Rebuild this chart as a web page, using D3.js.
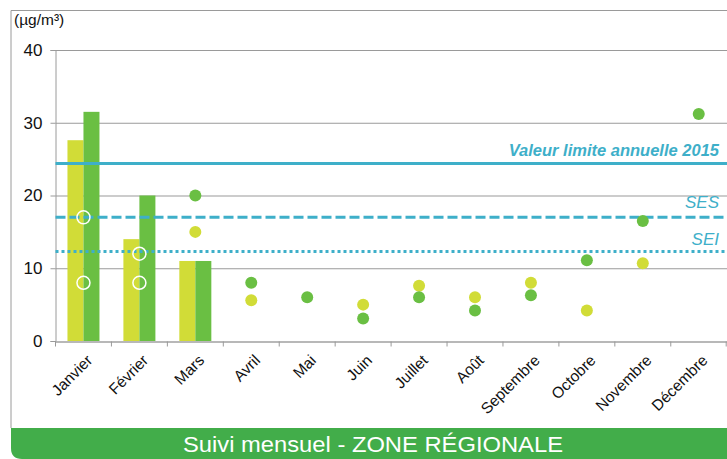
<!DOCTYPE html>
<html>
<head>
<meta charset="utf-8">
<script src="https://cdn.jsdelivr.net/npm/d3@7"></script>
<style>
  body { margin: 0; background: #fff; }
  text { font-family: "Liberation Sans", Arial, sans-serif; }
</style>
</head>
<body>
<svg id="chart"></svg>
<script>
let months = ["Janvier", "Février", "Mars", "Avril", "Mai", "Juin", "Juillet", "Août", "Septembre", "Octobre", "Novembre", "Décembre"];
// bars (first months only)
let barsLight = [27.6, 14, 11];
let barsDark = [31.5, 20, 11];
// dots, null = no value
let dotsLight = [8, 8, 15, 5.6, null, 5, 7.6, 6, 8, 4.2, 10.7, null];
let dotsDark = [17, 12, 20, 8, 6, 3.1, 6, 4.2, 6.3, 11.1, 16.5, 31.2];
let yTicks = [0, 10, 20, 30, 40];
let limitValue = 24.4, sesValue = 17, seiValue = 12.3;

function createChart() {
    let w = 727, h = 459;
    let svg = d3.select("#chart").attr("width", w).attr("height", h);

    let x = d3.scaleBand().domain(months).range([55.5, 726.7]);
    let y = d3.scaleLinear().domain([0, 40]).range([341, 50]);
    let lightCol = "#d1dc37", darkCol = "#6abf43", lineCol = "#3eafc9";

    // frame
    svg.append("path")
        .attr("d", "M11,428 L11,10.5 L727,10.5")
        .attr("fill", "none").attr("stroke", "#9a9a9a").attr("stroke-width", 1);

    // banner
    svg.append("path")
        .attr("d", "M11,428 L727,428 L727,459 L22,459 Q11,459 11,448 Z")
        .attr("fill", "#42ad4a");
    svg.append("text")
        .attr("x", 183).attr("y", 452)
        .attr("textLength", 380).attr("lengthAdjust", "spacingAndGlyphs")
        .attr("fill", "#fff").style("font-size", "22px")
        .text("Suivi mensuel - ZONE RÉGIONALE");

    // grid
    svg.selectAll(".grid")
        .data(yTicks.filter(d => d > 0))
        .enter().append("line")
        .attr("x1", 55.5).attr("x2", w)
        .attr("y1", d => y(d) + 0.5).attr("y2", d => y(d) + 0.5)
        .attr("stroke", "#9a9a9a").attr("stroke-width", 1.2);

    // y axis
    let yAxis = svg.append("g")
        .attr("transform", "translate(55.5,0)")
        .call(d3.axisLeft(y).tickValues(yTicks).tickSize(5).tickPadding(8));
    yAxis.select(".domain").attr("stroke", "#9a9a9a");
    yAxis.selectAll(".tick line").attr("stroke", "#9a9a9a");
    yAxis.selectAll("text").style("font-size", "17px").attr("fill", "#111")
        .attr("font-family", "Liberation Sans, Arial, sans-serif");

    svg.append("text")
        .attr("x", 14).attr("y", 25)
        .style("font-size", "15.5px").attr("fill", "#111")
        .text("(µg/m³)");

    // bars
    let inner = d3.scaleBand().domain([0, 1]).range([0, 32]);
    let barData = [];
    barsLight.forEach((v, i) => barData.push({ m: months[i], k: 0, v: v }));
    barsDark.forEach((v, i) => barData.push({ m: months[i], k: 1, v: v }));
    svg.selectAll(".bar")
        .data(barData)
        .enter().append("rect")
        .attr("x", d => x(d.m) + x.bandwidth() / 2 - 16 + inner(d.k))
        .attr("width", inner.bandwidth())
        .attr("y", d => y(d.v))
        .attr("height", d => y(0) - y(d.v))
        .attr("fill", d => d.k ? darkCol : lightCol);

    // x axis
    let xAxis = svg.append("g")
        .attr("transform", "translate(0,341.5)")
        .call(d3.axisBottom(x).tickSize(5).tickSizeOuter(0));
    xAxis.select(".domain").attr("stroke", "#a0a0a0").attr("stroke-width", 1.5);
    xAxis.selectAll(".tick line").attr("stroke", "#9a9a9a")
        .attr("transform", "translate(" + (-x.bandwidth() / 2) + ",0)");
    xAxis.append("line")
        .attr("x1", x.range()[1] - 0.5).attr("x2", x.range()[1] - 0.5)
        .attr("y1", 0).attr("y2", 5).attr("stroke", "#9a9a9a");
    xAxis.selectAll(".tick text")
        .style("font-size", "15.5px").attr("fill", "#111")
        .attr("font-family", "Liberation Sans, Arial, sans-serif")
        .attr("text-anchor", "end")
        .attr("transform", "translate(6,16) rotate(-45)")
        .attr("y", 0).attr("dy", "0.35em");

    // reference lines
    let refs = [
        { v: limitValue, dash: null, width: 3 },
        { v: sesValue, dash: "10,4", width: 3 },
        { v: seiValue, dash: "3,3", width: 3 }
    ];
    svg.selectAll(".ref")
        .data(refs)
        .enter().append("line")
        .attr("x1", 55.5).attr("x2", w)
        .attr("y1", d => y(d.v)).attr("y2", d => y(d.v))
        .attr("stroke", lineCol).attr("stroke-width", d => d.width)
        .attr("stroke-dasharray", d => d.dash);

    svg.append("text")
        .attr("x", 719).attr("y", y(limitValue) - 7)
        .attr("text-anchor", "end").attr("fill", lineCol)
        .style("font-size", "16.5px").style("font-weight", "bold").style("font-style", "italic")
        .text("Valeur limite  annuelle 2015");
    svg.append("text")
        .attr("x", 719).attr("y", y(sesValue) - 9)
        .attr("text-anchor", "end").attr("fill", lineCol)
        .style("font-size", "17px").style("font-style", "italic")
        .text("SES");
    svg.append("text")
        .attr("x", 719).attr("y", y(seiValue) - 7)
        .attr("text-anchor", "end").attr("fill", lineCol)
        .style("font-size", "17px").style("font-style", "italic")
        .text("SEI");

    // dots
    let dotData = [];
    dotsLight.forEach((v, i) => { if (v != null) dotData.push({ m: months[i], k: 0, v: v, open: i < 2 }); });
    dotsDark.forEach((v, i) => { if (v != null) dotData.push({ m: months[i], k: 1, v: v, open: i < 2 }); });
    svg.selectAll(".dot")
        .data(dotData)
        .enter().append("circle")
        .attr("cx", d => x(d.m) + x.bandwidth() / 2)
        .attr("cy", d => y(d.v))
        .attr("r", d => d.open ? 6.5 : 6)
        .attr("fill", d => d.open ? "none" : (d.k ? darkCol : lightCol))
        .attr("stroke", d => d.open ? "#fff" : "none")
        .attr("stroke-width", 1.5);
}

window.onload = function() {
    createChart();
};
</script>
</body>
</html>
